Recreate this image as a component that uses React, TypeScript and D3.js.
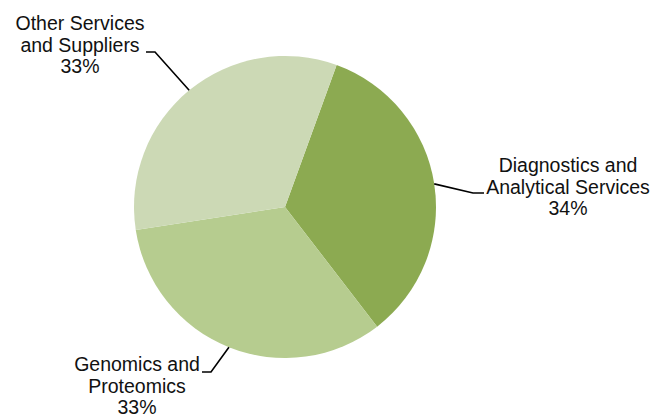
import React from 'react';
import * as d3 from 'd3';

// Slice data (clockwise, starting a bit right of 12 o'clock)
const categories = ['Diagnostics and Analytical Services', 'Genomics and Proteomics', 'Other Services and Suppliers'];
const shares = [34, 33, 33];
const labelLines = [
  ['Diagnostics and', 'Analytical Services', '34%'],
  ['Genomics and', 'Proteomics', '33%'],
  ['Other Services', 'and Suppliers', '33%'],
];
const colors = ['#8caa51', '#b6cc8f', '#ccd9b5'];

const width = 660;
const height = 420;
const cx = 285;
const cy = 207;
const radius = 151;

// label placement: elbow point, end of horizontal tick, text centre x, first baseline y
const labelLayout = [
  { elbow: [473, 193], end: [484, 193], tx: 568, ty: 172, anchor: 'middle' },
  { elbow: [211, 372], end: [202, 372], tx: 137, ty: 371, anchor: 'middle' },
  { elbow: [155, 52], end: [146, 52], tx: 80, ty: 30, anchor: 'middle' },
];

const App = () => {
  const start = (20 * Math.PI) / 180;
  const pie = d3
    .pie<number>()
    .sort(null)
    .value((d) => d)
    .startAngle(start)
    .endAngle(start + 2 * Math.PI);
  const arcs = pie(shares);
  const arc = d3.arc<d3.PieArcDatum<number>>().innerRadius(0).outerRadius(radius);
  const lineGen = d3.line();

  return (
    <svg
      width={width}
      height={height}
      style={{ position: 'absolute', left: 0, top: 0, background: '#fff' }}
      fontFamily="'Liberation Sans', Arial, sans-serif"
    >
      <g transform={`translate(${cx},${cy})`}>
        {arcs.map((a, i) => (
          <path key={categories[i]} d={arc(a) || ''} fill={colors[i]} />
        ))}
      </g>
      {arcs.map((a, i) => {
        const mid = (a.startAngle + a.endAngle) / 2;
        const px = cx + Math.sin(mid) * radius;
        const py = cy - Math.cos(mid) * radius;
        const l = labelLayout[i];
        const pts: [number, number][] = [
          [px, py],
          [l.elbow[0], l.elbow[1]],
          [l.end[0], l.end[1]],
        ];
        return (
          <g key={'lbl' + i}>
            <path d={lineGen(pts) || ''} fill="none" stroke="#000" strokeWidth={1.6} />
            <text textAnchor={l.anchor} fontSize={19.5} fill="#111">
              {labelLines[i].map((t, j) => (
                <tspan key={j} x={l.tx} y={l.ty + j * 21.5}>
                  {t}
                </tspan>
              ))}
            </text>
          </g>
        );
      })}
    </svg>
  );
};

export default App;
